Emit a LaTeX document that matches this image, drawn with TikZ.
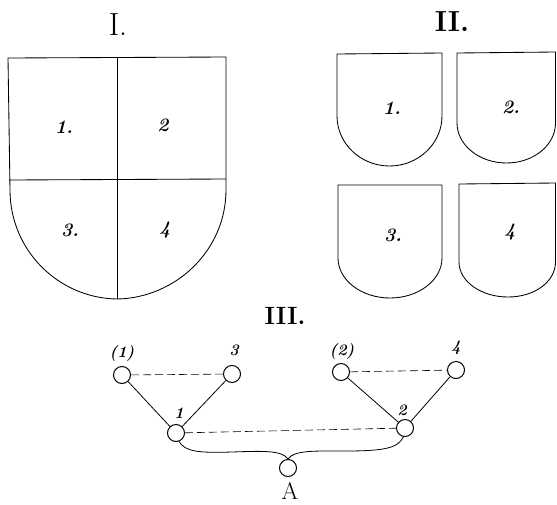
\documentclass[tikz,border=0pt]{standalone}
\begin{document}
\begin{tikzpicture}[x=1pt,y=-1pt,
  shieldline/.style={line width=0.85pt,line join=round},
  numlbl/.style={font=\fontsize{19}{19}\selectfont\bfseries\itshape,inner sep=0pt},
  glbl/.style={font=\fontsize{16}{16}\selectfont\bfseries\itshape,inner sep=0pt},
  roman/.style={inner sep=0pt},
  vtx/.style={circle,draw,line width=1pt,minimum size=17pt,inner sep=0pt},
  solidedge/.style={line width=0.8pt},
  dashedge/.style={line width=0.6pt,dash pattern=on 8pt off 4pt}]
\useasboundingbox (0,0) rectangle (557,504);
% Titles
\node[roman,font=\fontsize{32}{32}\selectfont] (tI) at (118,25) {I.};
\node[roman,font=\fontsize{29}{29}\selectfont\bfseries] (tII) at (452,22) {II.};
\node[roman,font=\fontsize{25}{25}\selectfont\bfseries] (tIII) at (285,316) {III.};
% Shield I
\draw[shieldline] (8,58) -- (226,57) -- (226,190) .. controls (226,250) and (176,298) .. (117,299) .. controls (58,298) and (10,250) .. (10,190) -- cycle;
\draw[shieldline] (9,180) -- (226,179);
\draw[shieldline] (117,57) -- (117,299);
\node[numlbl] (s1) at (64,127) {1.};
\node[numlbl] (s2) at (163,125) {2};
\node[numlbl] (s3) at (70,230) {3.};
\node[numlbl] (s4) at (165,230) {4};
% Shield II tiles
\draw[shieldline] (337,54) -- (442,53) -- (442,116) .. controls (442,143.5) and (418.4,166) .. (389.5,166) .. controls (360.6,166) and (337,143.5) .. (337,116) -- cycle;
\draw[shieldline] (457,53) -- (555.5,52) -- (555.5,123) .. controls (555.5,145) and (533.7,163) .. (506.5,163) .. controls (479.3,163) and (457,145) .. (457,123) -- cycle;
\draw[shieldline] (338,185) -- (442,185) -- (442,258) .. controls (442,280) and (418.6,298) .. (390,298) .. controls (361.4,298) and (338,280) .. (338,258) -- cycle;
\draw[shieldline] (459,184) -- (555.5,183) -- (555.5,262) .. controls (555.5,281.3) and (535,297) .. (508,297) .. controls (481,297) and (459,281.3) .. (459,262) -- cycle;
\node[numlbl] (t1) at (392,108) {1.};
\node[numlbl] (t2) at (511,107) {2.};
\node[numlbl] (t3) at (393,235) {3.};
\node[numlbl] (t4) at (510,232) {4};
% Graph III
\node[vtx] (p1) at (122,375) {};
\node[vtx] (v3) at (232,374) {};
\node[vtx] (p2) at (341,372) {};
\node[vtx] (v4) at (456,370) {};
\node[vtx] (v1) at (176,433) {};
\node[vtx] (v2) at (405,428) {};
\node[vtx] (vA) at (288,468) {};
\node[glbl] (lp1) at (122,353) {(1)};
\node[glbl] (l3) at (234,350) {3};
\node[glbl] (lp2) at (342,351) {(2)};
\node[glbl] (l4) at (456,348) {4};
\node[glbl] (l1) at (179,413) {1};
\node[glbl] (l2) at (402,410) {2};
\node[roman,font=\fontsize{24}{24}\selectfont] (lA) at (290,491) {A};
\draw[solidedge] (p1) -- (v1);
\draw[solidedge] (v3) -- (v1);
\draw[solidedge] (p2) -- (v2);
\draw[solidedge] (v4) -- (v2);
\draw[dashedge] (p1) -- (v3);
\draw[dashedge] (p2) -- (v4);
\draw[dashedge] (v1) -- (v2);
\draw[solidedge] (v1.-70) .. controls (185,452) and (200,453) .. (232,452) .. controls (262,451) and (282,450) .. (vA.north);
\draw[solidedge] (v2.-100) .. controls (398,448) and (385,451) .. (345,451) .. controls (315,451) and (294,450) .. (vA.north);
\end{tikzpicture}
\end{document}
